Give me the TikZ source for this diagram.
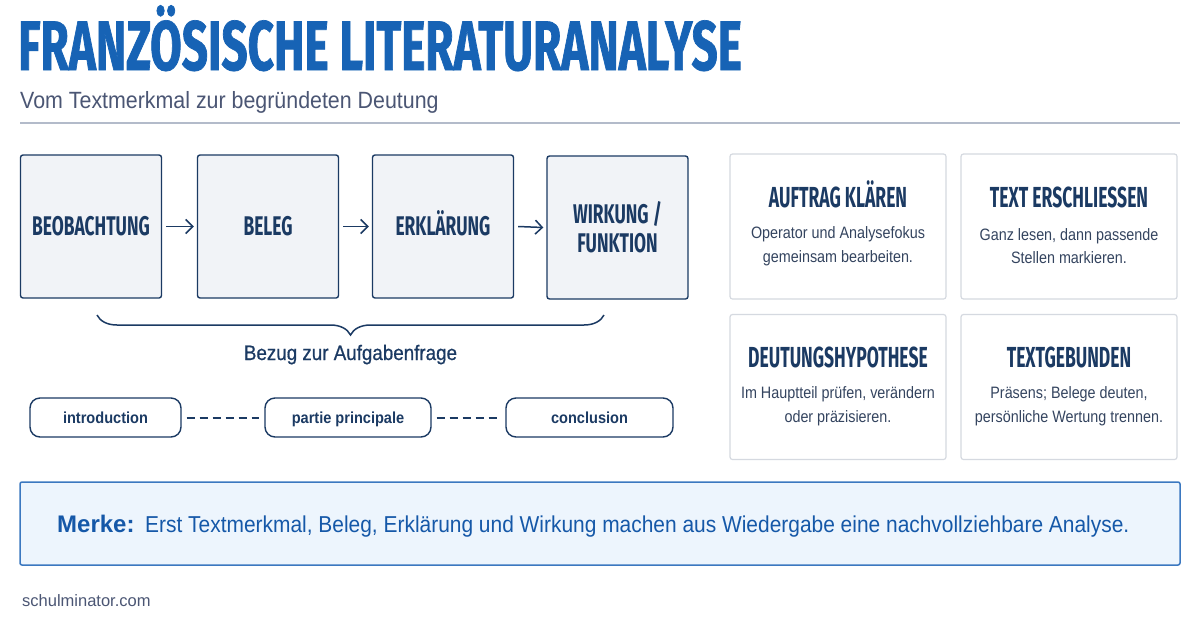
\documentclass[tikz,border=0pt]{standalone}
\usepackage{fontspec}
\setmainfont{Liberation Sans}
\newfontfamily\stepfont[FakeStretch=0.645]{Fira Sans}
\newfontfamily\cardfont[FakeStretch=0.605]{Fira Sans}
\newfontfamily\titlefont[FakeStretch=0.655,FakeBold=1]{Fira Sans}
\newfontfamily\narrowfont[FakeStretch=0.91]{Liberation Sans}
\newfontfamily\mediumfont[FakeStretch=0.895,FakeBold=0.6]{Liberation Sans}
\newfontfamily\bodyfont[FakeStretch=0.87]{Liberation Sans}
\usetikzlibrary{arrows.meta,decorations.pathreplacing}
\definecolor{titleblue}{HTML}{1763B5}
\definecolor{navy}{HTML}{1B3A63}
\definecolor{subgray}{HTML}{4B5674}
\definecolor{rulegray}{HTML}{B3BBCA}
\definecolor{cardborder}{HTML}{D5D9E0}
\definecolor{boxfill}{HTML}{F1F3F7}
\definecolor{merkefill}{HTML}{EDF5FD}
\definecolor{merkeborder}{HTML}{3B78C0}
\definecolor{merketext}{HTML}{1558A8}
\definecolor{bodytext}{HTML}{34445F}
\tikzset{
  stepbox/.style={draw=navy, fill=boxfill, line width=1.4pt, rounded corners=2.5pt,
    minimum width=141pt, minimum height=143pt, align=center, text=navy,
    font=\stepfont\bfseries\fontsize{27}{30}\selectfont},
  oneline/.style={text height=18.6pt, text depth=0pt},
  flow/.style={draw=navy, line width=1.5pt, -{Straight Barb[length=7pt,width=14pt,line width=1.5pt]}},
  pill/.style={draw=navy, fill=white, line width=1.4pt, rounded corners=10pt,
    minimum height=39pt, text height=12pt, text depth=0pt, text=navy,
    font=\narrowfont\bfseries\fontsize{16}{18}\selectfont},
  dashline/.style={draw=navy, line width=2pt, dash pattern=on 8pt off 5pt},
  card/.style={draw=cardborder, fill=white, line width=1.2pt, rounded corners=2.5pt,
    minimum width=216pt, minimum height=145pt},
  cardtitle/.style={text=navy, text height=20pt, text depth=0pt, inner sep=0pt,
    font=\cardfont\bfseries\fontsize{29}{32}\selectfont},
  cardbody/.style={text=bodytext, align=center, font=\bodyfont\fontsize{16.5}{23.5}\selectfont},
}
\begin{document}
\begin{tikzpicture}[x=1pt,y=-1pt]
\useasboundingbox (0,0) rectangle (1200,630);
\fill[white] (0,0) rectangle (1200,630);

% title
\node[anchor=base west, inner sep=0, text=titleblue, font=\titlefont\bfseries\fontsize{70}{74}\selectfont] (title) at (18,70) {FRANZÖSISCHE LITERATURANALYSE};
\node[anchor=base west, inner sep=0, text=subgray, font=\narrowfont\fontsize{23.5}{26}\selectfont] (subtitle) at (20,108) {Vom Textmerkmal zur begründeten Deutung};
\coordinate (rl) at (20,123);
\coordinate (rr) at (1180,123);
\draw[rulegray, line width=2pt] (rl) -- (rr);

% steps
\node[stepbox, oneline] (b1) at (91,226.5) {BEOBACHTUNG};
\node[stepbox, oneline] (b2) at (268,226.5) {BELEG};
\node[stepbox, oneline] (b3) at (443,226.5) {ERKLÄRUNG};
\node[stepbox] (b4) at (617.5,227.5) {WIRKUNG /\\[-1pt]FUNKTION};
\draw[flow] ([xshift=4pt]b1.east) -- ([xshift=-3pt]b2.west);
\draw[flow] ([xshift=4pt]b2.east) -- ([xshift=-3pt]b3.west);
\draw[flow] ([xshift=4pt]b3.east) -- ([xshift=-3pt]b4.west);

% brace
\coordinate (brl) at (97,315);
\coordinate (brr) at (604,315);
\draw[navy, line width=1.5pt, decorate, decoration={brace, mirror, amplitude=20pt, aspect=0.5}] (brl) -- (brr);
\node[anchor=base, inner sep=0, text=navy, font=\mediumfont\fontsize{21}{24}\selectfont] (bezug) at (350.5,360) {Bezug zur Aufgabenfrage};

% pills
\node[pill, minimum width=151pt] (p1) at (105.5,417.5) {introduction};
\node[pill, minimum width=166pt] (p2) at (348,417.5) {partie principale};
\node[pill, minimum width=167pt] (p3) at (589.5,417.5) {conclusion};
\draw[dashline] ([xshift=5pt]p1.east) -- ([xshift=-5pt]p2.west);
\draw[dashline] ([xshift=5pt]p2.east) -- ([xshift=-5pt]p3.west);

% cards
\node[card] (c1) at (838,226.5) {};
\node[card] (c2) at (1069,226.5) {};
\node[card] (c3) at (838,387) {};
\node[card] (c4) at (1069,387) {};
\node[cardtitle] (t1) at (838,197) {AUFTRAG KLÄREN};
\node[cardtitle] (t2) at (1069,197) {TEXT ERSCHLIESSEN};
\node[cardtitle] (t3) at (838,357) {DEUTUNGSHYPOTHESE};
\node[cardtitle] (t4) at (1069,357) {TEXTGEBUNDEN};
\node[cardbody] (d1) at (838,246) {Operator und Analysefokus\\gemeinsam bearbeiten.};
\node[cardbody] (d2) at (1069,246) {Ganz lesen, dann passende\\Stellen markieren.};
\node[cardbody] (d3) at (838,406) {Im Hauptteil prüfen, verändern\\oder präzisieren.};
\node[cardbody] (d4) at (1069,406) {Präsens; Belege deuten,\\persönliche Wertung trennen.};

% merke
\node[draw=merkeborder, fill=merkefill, line width=1.5pt, rounded corners=2pt, minimum width=1160pt, minimum height=83pt] (merke) at (600,523.5) {};
\node[anchor=base west, inner sep=0, text=merketext, font=\fontsize{24}{26}\selectfont\bfseries] (mlabel) at (57,532) {Merke:};
\node[anchor=base west, inner sep=0, text=merketext, font=\narrowfont\fontsize{23}{26}\selectfont] (mtext) at (145,532) {Erst Textmerkmal, Beleg, Erklärung und Wirkung machen aus Wiedergabe eine nachvollziehbare Analyse.};

\node[anchor=base west, inner sep=0, text=subgray, font=\fontsize{16.5}{18}\selectfont] (foot) at (22,606) {schulminator.com};
\end{tikzpicture}
\end{document}
